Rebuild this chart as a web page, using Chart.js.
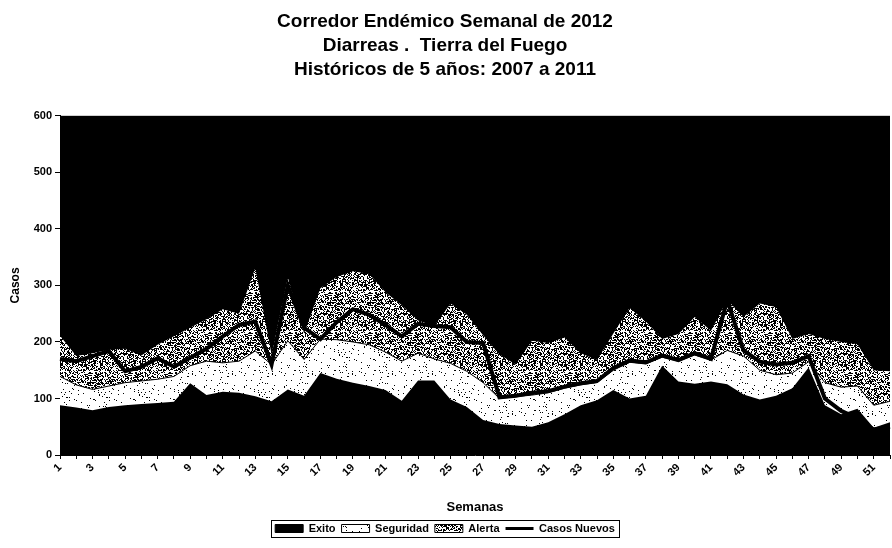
<!DOCTYPE html>
<html>
<head>
<meta charset="utf-8">
<script src="https://cdn.jsdelivr.net/npm/chart.js@4.4.1/dist/chart.umd.min.js"></script>
<style>
  body { margin: 0; background: #fff; }
  canvas { display: block; }
</style>
</head>
<body>
<canvas id="corredor" width="892" height="548"></canvas>
<script>
const semanas = ["1","2","3","4","5","6","7","8","9","10","11","12","13","14","15","16","17","18","19","20",
  "21","22","23","24","25","26","27","28","29","30","31","32","33","34","35","36","37","38","39","40",
  "41","42","43","44","45","46","47","48","49","50","51","52"];

// limite superior de cada zona (casos)
const exito = [88, 84, 79, 85, 88, 90, 92, 94, 127, 106, 112, 110, 104, 95, 116, 105, 145, 135, 128, 122,
  115, 96, 132, 132, 98, 85, 62, 55, 52, 50, 58, 72, 88, 97, 115, 100, 105, 158, 130, 126,
  130, 125, 107, 98, 105, 118, 155, 88, 72, 82, 48, 58];
const seguridad = [139, 124, 116, 122, 128, 131, 134, 139, 158, 166, 163, 166, 184, 160, 202, 169, 205, 204, 200, 195,
  182, 166, 180, 170, 162, 148, 128, 100, 103, 106, 110, 118, 124, 128, 150, 164, 161, 173, 166, 177,
  168, 185, 175, 150, 142, 145, 165, 128, 120, 122, 88, 95];
const alerta = [211, 175, 180, 186, 188, 176, 195, 210, 225, 240, 258, 250, 331, 178, 314, 215, 295, 315, 325, 320,
  288, 265, 238, 228, 268, 248, 212, 178, 160, 202, 198, 208, 180, 168, 215, 260, 236, 205, 214, 244,
  220, 274, 244, 268, 262, 205, 214, 205, 200, 196, 150, 148];
const casosNuevos = [170, 166, 175, 184, 148, 156, 171, 156, 172, 188, 210, 230, 236, 160, 300, 225, 205, 235, 258, 248,
  230, 210, 232, 228, 226, 200, 198, 102, 105, 110, 113, 121, 127, 131, 154, 167, 164, 176, 168, 180,
  170, 274, 185, 165, 160, 163, 175, 100, 78, 65, 45, 50];

const FONT = "'Liberation Sans', Arial, sans-serif";

// trama de puntos (como el grisado del original); semilla fija, solo textura
function trama(densidad, lado, semilla) {
  const c = document.createElement("canvas");
  c.width = lado;
  c.height = lado;
  const g = c.getContext("2d");
  g.fillStyle = "#fff";
  g.fillRect(0, 0, lado, lado);
  g.fillStyle = "#000";
  let s = semilla;
  for (let y = 0; y < lado; y++) {
    for (let x = 0; x < lado; x++) {
      s = (s * 1103515245 + 12345) % 2147483648;
      if (s / 2147483648 < densidad) g.fillRect(x, y, 1, 1);
    }
  }
  return g.createPattern(c, "repeat");
}

const puntosBlancos = trama(0.04, 40, 7);
const puntosGrises = trama(0.45, 40, 3);

const fondoNegro = {
  id: "fondoNegro",
  beforeDraw(chart) {
    const { ctx, chartArea: a } = chart;
    ctx.save();
    ctx.fillStyle = "#000";
    ctx.fillRect(a.left, a.top, a.right - a.left, a.bottom - a.top);
    ctx.restore();
  },
};

const marcoLeyenda = {
  id: "marcoLeyenda",
  afterDraw(chart) {
    const hb = chart.legend.legendHitBoxes;
    if (!hb || !hb.length) return;
    const ctx = chart.ctx;
    const l = Math.min(...hb.map((h) => h.left)) - 4;
    const r = Math.max(...hb.map((h) => h.left + h.width)) + 4;
    const t = hb[0].top - 3;
    const b = hb[0].top + hb[0].height + 3;
    ctx.save();
    ctx.strokeStyle = "#000";
    ctx.lineWidth = 1;
    ctx.strokeRect(Math.round(l) + 0.5, Math.round(t) + 0.5, Math.round(r - l), Math.round(b - t));
    ctx.restore();
  },
};

const ctx = document.getElementById("corredor");

new Chart(ctx, {
  type: "line",
  data: {
    labels: semanas,
    datasets: [
      {
        label: "Exito",
        data: exito,
        backgroundColor: "#000",
        borderColor: "rgba(0,0,0,0)",
        borderWidth: 1,
        fill: "origin",
        pointRadius: 0,
        order: 1,
      },
      {
        label: "Seguridad",
        data: seguridad,
        backgroundColor: puntosBlancos,
        borderColor: "#000",
        borderWidth: 1,
        fill: "origin",
        pointRadius: 0,
        order: 2,
      },
      {
        label: "Alerta",
        data: alerta,
        backgroundColor: puntosGrises,
        borderColor: "rgba(0,0,0,0)",
        borderWidth: 1,
        fill: "origin",
        pointRadius: 0,
        order: 3,
      },
      {
        label: "Casos Nuevos",
        data: casosNuevos,
        backgroundColor: "#000",
        borderColor: "#000",
        borderWidth: 4,
        fill: false,
        pointRadius: 0,
        order: 0,
      },
    ],
  },
  options: {
    responsive: false,
    animation: false,
    layout: { padding: { left: 0, right: 2, top: 0, bottom: 4 } },
    plugins: {
      tooltip: { enabled: false },
      title: {
        display: true,
        text: [
          "Corredor Endémico Semanal de 2012",
          "Diarreas .  Tierra del Fuego",
          "Históricos de 5 años: 2007 a 2011",
        ],
        color: "#000",
        font: { family: FONT, size: 19, weight: "bold", lineHeight: 1.26 },
        padding: { top: 10, bottom: 34 },
      },
      legend: {
        position: "bottom",
        labels: {
          color: "#000",
          font: { family: FONT, size: 11, weight: "bold" },
          usePointStyle: true,
          pointStyleWidth: 28,
          boxHeight: 8,
          padding: 6,
          generateLabels(chart) {
            const items = Chart.defaults.plugins.legend.labels.generateLabels(chart);
            items.forEach((it) => {
              const ds = chart.data.datasets[it.datasetIndex];
              if (ds.label === "Casos Nuevos") {
                it.pointStyle = "line";
                it.lineWidth = 3;
                it.strokeStyle = "#000";
              } else {
                it.pointStyle = "rect";
                it.lineWidth = 1;
                it.strokeStyle = "#000";
                it.fillStyle = ds.backgroundColor;
              }
            });
            return items.sort((a, b) => a.datasetIndex - b.datasetIndex);
          },
        },
      },
    },
    scales: {
      x: {
        offset: false,
        grid: { display: true, drawOnChartArea: false, drawTicks: true, tickLength: 4, color: "#000" },
        border: { display: true, color: "#000", width: 1 },
        ticks: {
          autoSkip: false,
          maxRotation: 45,
          minRotation: 45,
          padding: 2,
          color: "#000",
          font: { family: FONT, size: 11, weight: "bold" },
          callback: function (val, i) {
            return i % 2 === 0 ? semanas[i] : "";
          },
        },
        title: {
          display: true,
          text: "Semanas",
          color: "#000",
          font: { family: FONT, size: 13, weight: "bold" },
          padding: { top: 2, bottom: 2 },
        },
        afterFit(scale) {
          scale.height = 62;
          scale.paddingLeft = 0;
          scale.paddingRight = 0;
        },
      },
      y: {
        min: 0,
        max: 600,
        grid: { display: true, drawOnChartArea: false, drawTicks: true, tickLength: 5, color: "#000" },
        border: { display: true, color: "#000", width: 1 },
        ticks: {
          stepSize: 100,
          padding: 3,
          color: "#000",
          font: { family: FONT, size: 11, weight: "bold" },
        },
        title: {
          display: true,
          text: "Casos",
          color: "#000",
          font: { family: FONT, size: 12, weight: "bold" },
          padding: { top: 8, bottom: 0 },
        },
        afterFit(scale) {
          scale.width = 60;
        },
      },
    },
  },
  plugins: [fondoNegro, marcoLeyenda],
});
</script>
</body>
</html>
